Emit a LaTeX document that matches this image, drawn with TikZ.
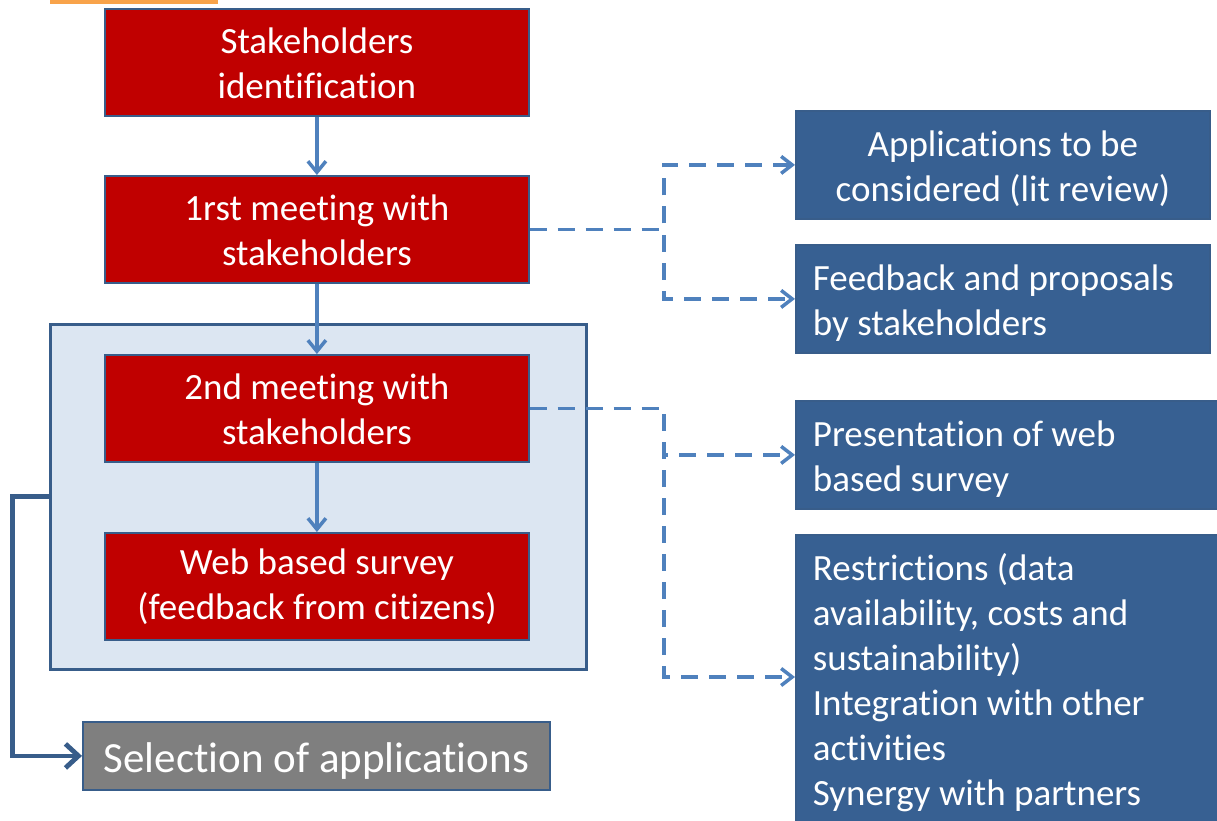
\documentclass[tikz,border=0pt]{standalone}
\usepackage{fontspec}
\setmainfont{Carlito}[RawFeature={-liga;-clig;-dlig}]
\usetikzlibrary{arrows.meta,calc}
\definecolor{boxred}{HTML}{C00000}
\definecolor{edgeblue}{HTML}{385D8A}
\definecolor{fillblue}{HTML}{376092}
\definecolor{linkblue}{HTML}{4F81BD}
\definecolor{panel}{HTML}{DCE6F2}
\definecolor{boxgray}{HTML}{7F7F7F}
\definecolor{taborange}{HTML}{F8A34A}
% taller first line, to sit the text a little lower in its box
\newcommand\firstline[1]{\rule{0pt}{#1}}
\tikzset{
  txt/.style={text=white, font=\fontsize{37}{45}\selectfont},
  redbox/.style={txt, rectangle, draw=edgeblue, line width=1.8, fill=boxred,
    anchor=north west, minimum width=424, minimum height=107, align=center, inner sep=0},
  bluebox/.style={txt, rectangle, draw=edgeblue, line width=1.8, fill=fillblue,
    anchor=north west, align=center, inner sep=0},
  leftbox/.style={bluebox, align=flush left, inner xsep=17},
  flow/.style={linkblue, line width=3.5, -{Straight Barb[length=11,width=18]}},
  link/.style={linkblue, line width=3.5, dash pattern=on 17pt off 11pt,
    -{Straight Barb[length=11,width=17]}},
  select/.style={edgeblue, line width=4.8, -{Straight Barb[length=13,width=24]}},
}
\begin{document}
\begin{tikzpicture}[x=1pt,y=-1pt]
\clip (0,0) rectangle (1217,821);
\fill[white] (0,0) rectangle (1217,821);
% tab at the top edge
\fill[taborange] (50,-4) rectangle (218,4);

% panel grouping the second meeting and the survey
\node[rectangle, draw=edgeblue, line width=3.5, fill=panel, anchor=north west,
      minimum width=536, minimum height=345, inner sep=0] (grp) at (48.5,322.5) {};

% main sequence
\node[redbox] (s1) at (104,8) {\firstline{27pt}Stakeholders\\identification};
\node[redbox] (s2) at (104,175) {\firstline{27pt}1rst meeting with\\stakeholders};
\node[redbox] (s3) at (104,354) {\firstline{27pt}2nd meeting with\\stakeholders};
\node[redbox] (s4) at (104,532) {\firstline{27pt}Web based survey\\(feedback from citizens)};

% result
\node[rectangle, draw=edgeblue, line width=1.8, fill=boxgray, text=white,
      anchor=north west, minimum width=467, minimum height=68, inner sep=0,
      font=\fontsize{43}{50}\selectfont] (sel) at (82,721)
  {\firstline{40pt}Selection of applications};

% outputs of the meetings
\node[bluebox, minimum width=414, minimum height=108] (a) at (795,110)
  {\firstline{34pt}Applications to be\\considered (lit review)};
\node[leftbox, text width=380, minimum height=108] (b) at (795,244)
  {\firstline{35pt}Feedback and proposals\\by stakeholders};
\node[leftbox, text width=388, minimum height=108] (c) at (795,400)
  {\firstline{35pt}Presentation of web\\based survey};
\node[leftbox, text width=388, inner ysep=16] (d) at (795,534)
  {\firstline{30pt}Restrictions (data\\availability, costs and\\sustainability)\\Integration with other\\activities\\Synergy with partners};

% flow arrows
\draw[flow] (s1.south) -- (s2.north);
\draw[flow] (s2.south) -- (s3.north);
\draw[flow] (s3.south) -- (s4.north);

% dashed links to the outputs
\draw[link] (s2.east) -- ++(134,0) |- (a.west);
\draw[link] (s2.east) -- ++(134,0) |- (b.west);
\draw[link] (s3.east) -- ++(134,0) |- (c.west);
\draw[link] (s3.east) -- ++(134,0) |- ($(d.north west)+(0,143)$);

% from the panel to the selection
\draw[select] (grp.west) -- ++(-36,0) |- (sel.west);
\end{tikzpicture}
\end{document}
